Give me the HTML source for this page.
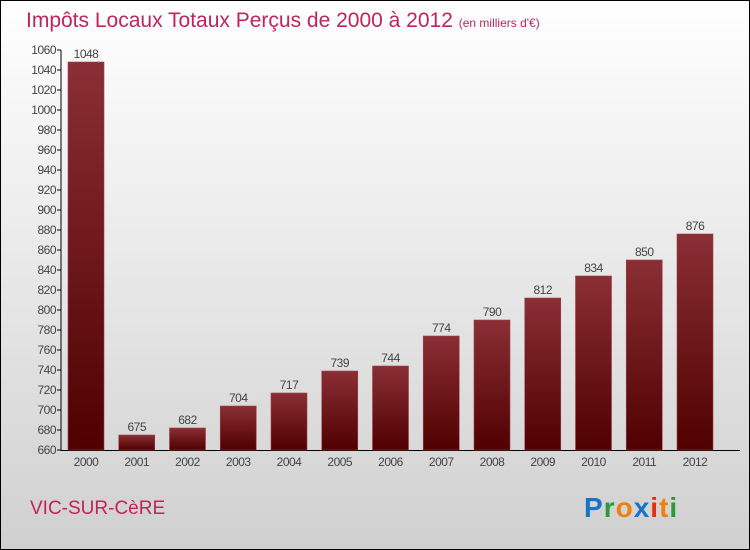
<!DOCTYPE html>
<html><head><meta charset="utf-8"><style>
body{margin:0;width:750px;height:550px;overflow:hidden}
svg{display:block;font-family:"Liberation Sans",sans-serif}
</style></head><body>
<svg width="750" height="550">
<defs>
<linearGradient id="bg" x1="0" y1="0" x2="0" y2="1"><stop offset="0" stop-color="#ffffff"/><stop offset="1" stop-color="#d0d0d0"/></linearGradient>
<linearGradient id="bar" x1="0" y1="0" x2="0" y2="1"><stop offset="0" stop-color="#8a2f35"/><stop offset="1" stop-color="#500000"/></linearGradient>
</defs>
<rect x="0.5" y="0.5" width="749" height="549" fill="url(#bg)" stroke="#000"/>
<text x="26" y="27" font-size="21" fill="#c0245a">Impôts Locaux Totaux Perçus de 2000 à 2012 <tspan font-size="12">(en milliers d'€)</tspan></text>
<g id="axes"></g>
<g id="bars"></g>
<text x="30" y="514" font-size="19" fill="#c0245a">VIC-SUR-CèRE</text>
<text x="584" y="517" font-size="28" font-weight="bold" letter-spacing="1"><tspan fill="#1a73c8">P</tspan><tspan fill="#2a9a3a">r</tspan><tspan fill="#f08010">o</tspan><tspan fill="#1a73c8">x</tspan><tspan fill="#e03010">i</tspan><tspan fill="#f08010">t</tspan><tspan fill="#2a9a3a">i</tspan></text>
</svg>
<script>
const years=["2000","2001","2002","2003","2004","2005","2006","2007","2008","2009","2010","2011","2012"];
const values=[1048,675,682,704,717,739,744,774,790,812,834,850,876];
const ticks=[660,680,700,720,740,760,780,800,820,840,860,880,900,920,940,960,980,1000,1020,1040,1060];
const NS="http://www.w3.org/2000/svg";
const y=v=>450-(v-660)*400/400;
const x=i=>68+i*50.75;
function mk(t,a,p){const e=document.createElementNS(NS,t);for(const k in a)e.setAttribute(k,a[k]);p.appendChild(e);return e;}
const ax=document.getElementById('axes'),bg=document.getElementById('bars');
const yl=mk('line',{x1:61,y1:50,x2:61,y2:451,stroke:'#000'},ax);


const xl=mk('line',{x1:61,y1:450.5,x2:740,y2:450.5,stroke:'#000'},ax);


ticks.forEach(t=>{
 mk('line',{x1:57,x2:61,y1:y(t),y2:y(t),stroke:'#000'},ax);
 const l=mk('text',{x:56,y:y(t)+4,'font-size':12,fill:'#444','text-anchor':'end','letter-spacing':'-0.5'},ax);
 l.textContent=t;
 
 
});
values.forEach((v,i)=>{
 const r=mk('rect',{x:x(i),y:y(v),width:36,height:450-y(v),fill:'url(#bar)',stroke:'#a04048','stroke-width':0.6},bg);
 
 
 const vl=mk('text',{x:x(i)+18,y:y(v)-4,'font-size':12,fill:'#444','text-anchor':'middle','letter-spacing':'-0.5'},bg);
 vl.textContent=v;
 
 
 const xl2=mk('text',{x:x(i)+18,y:466,'font-size':12,fill:'#444','text-anchor':'middle','letter-spacing':'-0.5'},bg);
 xl2.textContent=years[i];
 
 
});
</script>
</body></html>
